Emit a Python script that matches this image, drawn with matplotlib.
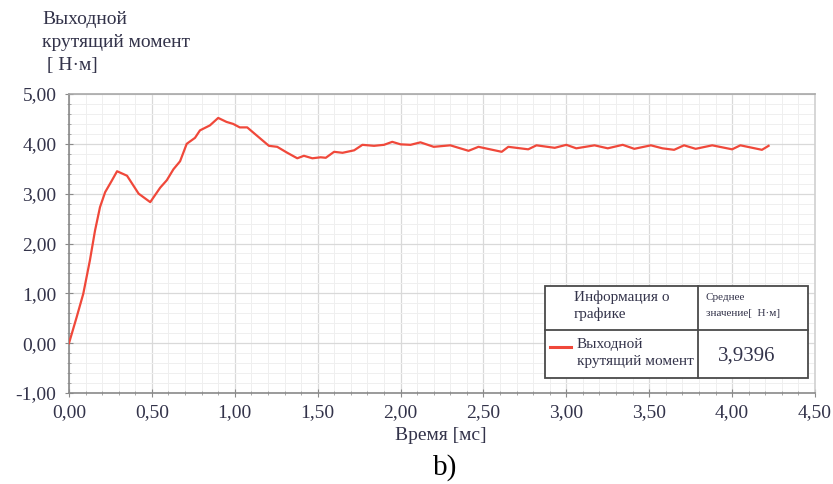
import matplotlib
matplotlib.use("Agg")
import matplotlib.pyplot as plt
from matplotlib.ticker import MultipleLocator, FixedLocator, FixedFormatter
from matplotlib.patches import Rectangle
from matplotlib.lines import Line2D

# ---- data ----
time_ms = [0, 0.046, 0.086, 0.126, 0.157, 0.187, 0.218, 0.258, 0.29, 0.35, 0.42, 0.49,
           0.55, 0.59, 0.63, 0.67, 0.71, 0.76, 0.79, 0.85, 0.90, 0.95, 0.99, 1.03, 1.075,
           1.135, 1.206, 1.256, 1.317, 1.377, 1.417, 1.468, 1.518, 1.549, 1.599, 1.65,
           1.72, 1.77, 1.84, 1.90, 1.95, 2.0, 2.06, 2.12, 2.2, 2.30, 2.41, 2.47, 2.61,
           2.65, 2.77, 2.82, 2.93, 3.0, 3.06, 3.17, 3.25, 3.34, 3.41, 3.51, 3.58, 3.65,
           3.71, 3.78, 3.88, 4.0, 4.05, 4.18, 4.22]
torque = [0, 0.52, 0.99, 1.66, 2.26, 2.73, 3.03, 3.26, 3.45, 3.36, 3.0, 2.83,
          3.12, 3.27, 3.49, 3.65, 4.0, 4.12, 4.27, 4.37, 4.52, 4.44, 4.40, 4.33, 4.33,
          4.16, 3.96, 3.94, 3.82, 3.71, 3.76, 3.71, 3.73, 3.72, 3.84, 3.82,
          3.87, 3.98, 3.96, 3.98, 4.04, 3.99, 3.98, 4.03, 3.94, 3.97, 3.86, 3.94, 3.84,
          3.94, 3.89, 3.97, 3.92, 3.98, 3.91, 3.97, 3.91, 3.98, 3.90, 3.97, 3.91, 3.88,
          3.97, 3.90, 3.97, 3.89, 3.97, 3.88, 3.96]
mean_value = "3,9396"

xticks = [0, 0.5, 1.0, 1.5, 2.0, 2.5, 3.0, 3.5, 4.0, 4.5]
xtick_labels = ["0,00", "0,50", "1,00", "1,50", "2,00", "2,50", "3,00", "3,50", "4,00", "4,50"]
yticks = [-1, 0, 1, 2, 3, 4, 5]
ytick_labels = ["-1,00", "0,00", "1,00", "2,00", "3,00", "4,00", "5,00"]

ylabel_text = "Выходной\nкрутящий момент\n [ Н·м]"
xlabel_text = "Время [мс]"
caption = "b)"
legend_head_left = "Информация о\nграфике"
legend_head_right = "Среднее\nзначение[  Н·м]"
series_name = "Выходной\nкрутящий момент"

# ---- style ----
plt.rcParams['font.family'] = ['Liberation Serif', 'DejaVu Serif']
TXT = '#33334a'
RED = '#f0483a'
W, H = 833, 484

fig = plt.figure(figsize=(W / 100, H / 100), dpi=100)
fig.patch.set_facecolor('white')

def fx(px):
    return px / W

def fy(py):
    return 1 - py / H

ax = fig.add_axes([fx(69), fy(393), fx(815) - fx(69), fy(94) - fy(393)])
ax.set_xlim(0, 4.5)
ax.set_ylim(-1, 5)

ax.xaxis.set_major_locator(FixedLocator(xticks))
ax.xaxis.set_major_formatter(FixedFormatter(xtick_labels))
ax.yaxis.set_major_locator(FixedLocator(yticks))
ax.yaxis.set_major_formatter(FixedFormatter(ytick_labels))
ax.xaxis.set_minor_locator(MultipleLocator(0.1))
ax.yaxis.set_minor_locator(MultipleLocator(0.2))

ax.grid(which='major', color='#d9d9d9', linewidth=0.9)
ax.grid(which='minor', color='#efefef', linewidth=0.7)
ax.set_axisbelow(True)

for side, col in [('left', '#8a8a8a'), ('bottom', '#8a8a8a'), ('top', '#a8a8a8'), ('right', '#d0d0d0')]:
    ax.spines[side].set_color(col)
    ax.spines[side].set_linewidth(1.2)

ax.tick_params(which='major', direction='inout', length=6, color='#8a8a8a',
               labelsize=14, labelcolor=TXT, pad=5)
ax.tick_params(which='minor', direction='inout', length=3, color='#9a9a9a')
ax.tick_params(axis='y', which='major', pad=6)

ax.plot(time_ms, torque, color=RED, linewidth=1.6, solid_joinstyle='round', zorder=3)

# axis labels
fig.text(fx(42), fy(11), ylabel_text, ha='left', va='top', fontsize=14,
         color=TXT, linespacing=1.45)
fig.text(fx(441), fy(436), xlabel_text, ha='center', va='center', fontsize=14, color=TXT)
fig.text(fx(445), fy(468), caption, ha='center', va='center', fontsize=21, color='black')

# ---- info table ----
left, right, top, bottom = 545, 808, 286, 378
midx, midy = 698, 330
tb = fig.transFigure
fig.patches.append(Rectangle((fx(left), fy(bottom)), fx(right) - fx(left), fy(top) - fy(bottom),
                             transform=tb, facecolor='white', edgecolor='#4a4a4a',
                             linewidth=1.3, zorder=5))
fig.lines.append(Line2D([fx(midx), fx(midx)], [fy(top), fy(bottom)], transform=tb,
                        color='#4a4a4a', linewidth=1.3, zorder=6))
fig.lines.append(Line2D([fx(left), fx(right)], [fy(midy), fy(midy)], transform=tb,
                        color='#4a4a4a', linewidth=1.3, zorder=6))
fig.text(fx(574), fy(306), legend_head_left, ha='left', va='center', fontsize=11,
         color=TXT, linespacing=1.3, zorder=7)
fig.text(fx(706), fy(306), legend_head_right, ha='left', va='center', fontsize=8,
         color=TXT, linespacing=2.0, zorder=7)
fig.lines.append(Line2D([fx(550), fx(571)], [fy(347), fy(347)], transform=tb,
                        color=RED, linewidth=2.2, zorder=7))
fig.text(fx(577), fy(353), series_name, ha='left', va='center', fontsize=11,
         color=TXT, linespacing=1.4, zorder=7)
fig.text(fx(718), fy(356), mean_value, ha='left', va='center', fontsize=15,
         color=TXT, zorder=7)

fig.savefig('out.png', dpi=100, facecolor='white')
